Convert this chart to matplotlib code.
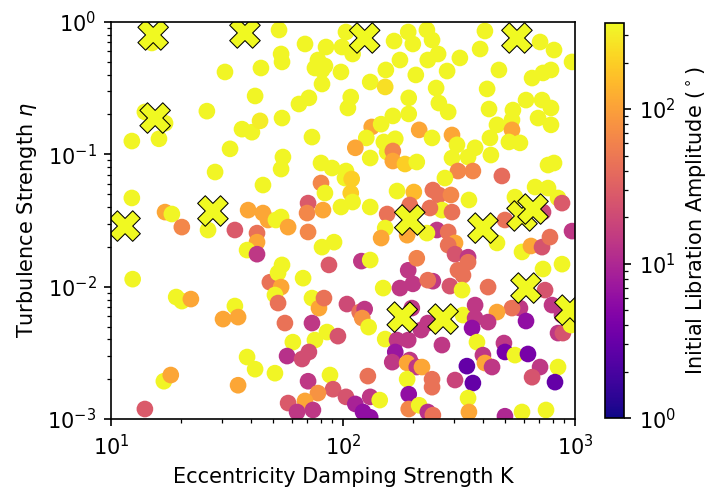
import numpy as np
import matplotlib
matplotlib.use('Agg')
import matplotlib.pyplot as plt
from matplotlib.colors import LogNorm

# damping strength K, turbulence eta, initial libration amplitude (deg)
K = [31.0, 44.3, 41.8, 25.9, 14.0, 17.1, 12.3, 16.1, 36.7, 40.5,
     43.9, 32.6, 28.1, 45.2, 12.3, 17.1, 18.3, 39.0, 45.2, 20.2,
     26.2, 34.2, 42.6, 42.6, 38.6, 42.6, 12.4, 48.4, 19.1, 20.2,
     22.1, 34.2, 30.4, 35.3, 38.6, 41.8, 16.9, 18.1, 35.3, 14.0,
     53.0, 103, 68.6, 84.5, 99.0, 110, 54.1, 54.6, 78.0, 75.7,
     83.6, 81.2, 98.0, 166, 191, 200, 176, 153, 206, 131,
     152, 81.2, 71.3, 64.6, 108, 105, 192, 192, 164, 54.6,
     133, 146, 213, 73.5, 126, 150, 168, 113, 155, 164,
     131, 164, 185, 55.1, 54.1, 80.4, 89.7, 103, 102, 109,
     80.4, 83.6, 108, 171, 202, 98.0, 110, 131, 70.7, 70.0,
     82.0, 54.1, 155, 194,
     230, 409, 707, 812, 971, 242, 390, 257, 232, 319,
     281, 470, 653, 728, 788, 418, 252, 259, 284, 426,
     540, 615, 721, 788, 693, 788, 535, 461, 535, 519,
     579, 430, 242, 295, 310, 371, 295, 346, 434, 208,
     765, 812, 313, 363, 484, 275, 673, 765, 845, 879,
     244, 259, 292, 349, 551, 267, 295, 728, 499,
     47.5, 51.4, 58.0, 70.7, 81.2, 91.5, 87.0, 120, 131, 54.6,
     52.5, 54.1, 50.9, 52.5, 67.3, 73.5, 78.8, 82.8, 104, 118,
     124, 121, 129, 149, 176, 200, 191, 208, 152, 146,
     189, 198, 56.2, 73.5, 85.3, 75.7, 95.1, 60.8, 57.4, 66.6,
     71.3, 152, 171, 191, 168, 163, 194, 189, 208, 50.9,
     87.9, 70.7, 128, 90.6, 78.0, 189, 192, 58.0, 68.6, 74.2,
     63.4, 103, 113, 122, 131, 144, 131, 192, 213,
     254, 284, 304, 284, 304, 346, 346, 313, 329, 461,
     591, 646, 721, 780, 971, 879, 728, 422, 244, 232,
     289, 326, 743, 796, 845, 887, 579, 535, 615, 879,
     961, 329, 371, 371, 360, 461, 422, 217, 232, 267,
     378, 401, 409, 439, 342, 363, 304, 494, 499, 551,
     627, 707, 653, 845, 820, 219, 242, 242, 232, 244,
     346, 349, 591, 499, 750, 230, 237, 15.0]
eta = [0.419, 0.449, 0.276, 0.212, 0.209, 0.172, 0.126, 0.131, 0.155, 0.147,
       0.179, 0.110, 0.0735, 0.0586, 0.0468, 0.0366, 0.0354, 0.0379, 0.0360, 0.0282,
       0.0268, 0.0268, 0.0254, 0.0217, 0.0189, 0.0176, 0.0114, 0.0108, 0.00835, 0.00778,
       0.00806, 0.00714, 0.00569, 0.00589, 0.00294, 0.00238, 0.00193, 0.00215, 0.00180, 0.00119,
       0.870, 0.840, 0.682, 0.647, 0.647, 0.573, 0.573, 0.499, 0.516, 0.449,
       0.465, 0.434, 0.419, 0.718, 0.840, 0.682, 0.516, 0.434, 0.398, 0.352,
       0.323, 0.340, 0.267, 0.240, 0.271, 0.224, 0.267, 0.202, 0.195, 0.188,
       0.161, 0.169, 0.153, 0.135, 0.133, 0.124, 0.131, 0.112, 0.104, 0.106,
       0.0938, 0.0890, 0.0845, 0.0954, 0.0774, 0.0860, 0.0788, 0.0748, 0.0662, 0.0651,
       0.0607, 0.0510, 0.0510, 0.0528, 0.0519, 0.0400, 0.0436, 0.0400, 0.0428, 0.0360,
       0.0379, 0.0336, 0.0354, 0.0414,
       0.870, 0.855, 0.706, 0.614, 0.499, 0.731, 0.625, 0.573, 0.516, 0.535,
       0.426, 0.434, 0.377, 0.412, 0.434, 0.312, 0.317, 0.244, 0.209, 0.220,
       0.216, 0.257, 0.257, 0.224, 0.188, 0.167, 0.182, 0.167, 0.153, 0.124,
       0.122, 0.133, 0.133, 0.140, 0.118, 0.112, 0.0938, 0.0954, 0.0988, 0.0875,
       0.0830, 0.0860, 0.0748, 0.0748, 0.0686, 0.0662, 0.0566, 0.0556, 0.0468, 0.0428,
       0.0537, 0.0493, 0.0493, 0.0452, 0.0475, 0.0379, 0.0366, 0.0366, 0.0319,
       0.0319, 0.0319, 0.0282, 0.0259, 0.0199, 0.0217, 0.0146, 0.0156, 0.0159, 0.0146,
       0.0127, 0.00993, 0.00865, 0.00752, 0.0116, 0.00820, 0.00689, 0.00820, 0.00739, 0.00643,
       0.00677, 0.00579, 0.00495, 0.00976, 0.00976, 0.0105, 0.0133, 0.0164, 0.0277, 0.0233,
       0.0245, 0.00689, 0.00531, 0.00531, 0.00454, 0.00395, 0.00423, 0.00381, 0.00299, 0.00284,
       0.00321, 0.00402, 0.00395, 0.00395, 0.00321, 0.00269, 0.00279, 0.00265, 0.00247, 0.00222,
       0.00215, 0.00193, 0.00211, 0.00168, 0.00157, 0.00200, 0.00154, 0.00132, 0.00137, 0.00117,
       0.00113, 0.00147, 0.00130, 0.00113, 0.00147, 0.00139, 0.00103, 0.00119, 0.00127,
       0.0268, 0.0259, 0.0214, 0.0206, 0.0176, 0.0167, 0.0153, 0.0133, 0.0122, 0.0214,
       0.0183, 0.0203, 0.0199, 0.0237, 0.0263, 0.0148, 0.0136, 0.00993, 0.0110, 0.0112,
       0.0101, 0.00942, 0.00942, 0.00726, 0.00446, 0.00446, 0.00689, 0.00689, 0.00550, 0.00610,
       0.00513, 0.00610, 0.00726, 0.00579, 0.00487, 0.00643, 0.00540, 0.00470, 0.00531, 0.00362,
       0.00381, 0.00304, 0.00265, 0.00247, 0.00251, 0.00187, 0.00197, 0.00375, 0.00321, 0.00304,
       0.00310, 0.00247, 0.00207, 0.00247, 0.00190, 0.00247, 0.00200, 0.00174, 0.00113, 0.00107,
       0.00144, 0.00113, 0.00113, 0.00105, 0.00117, 0.0254, 0.0393, 0.694]
amp = [340, 340, 340, 340, 340, 340, 340, 340, 340, 340,
       300, 340, 340, 340, 340, 110, 340, 110, 110, 65,
       340, 28, 45, 110, 340, 14, 340, 45, 340, 340,
       110, 340, 110, 110, 340, 340, 340, 110, 110, 28,
       340, 340, 340, 340, 340, 340, 340, 340, 340, 340,
       340, 340, 340, 340, 340, 340, 340, 340, 340, 340,
       250, 340, 340, 340, 340, 340, 340, 340, 340, 340,
       110, 340, 110, 340, 340, 340, 340, 110, 340, 65,
       340, 110, 200, 340, 340, 340, 340, 340, 340, 200,
       65, 340, 200, 340, 150, 340, 340, 340, 28, 65,
       110, 340, 45, 45,
       340, 340, 340, 340, 340, 340, 340, 340, 340, 340,
       340, 340, 340, 340, 340, 340, 340, 340, 340, 340,
       340, 340, 340, 340, 340, 340, 340, 340, 110, 340,
       340, 340, 340, 110, 340, 340, 340, 340, 340, 340,
       340, 340, 65, 65, 40, 340, 340, 340, 340, 28,
       45, 45, 65, 340, 340, 340, 45, 20, 45,
       110, 340, 110, 65, 340, 340, 28, 14, 340, 340,
       340, 110, 340, 45, 340, 340, 110, 45, 20, 45,
       14, 80, 340, 340, 14, 14, 14, 60, 340, 110,
       110, 14, 45, 14, 340, 340, 25, 340, 12, 22,
       22, 340, 14, 14, 7, 14, 14, 110, 14, 340,
       340, 14, 45, 28, 80, 340, 6, 28, 110, 14,
       14, 25, 9, 6, 14, 340, 6, 65, 340,
       14, 45, 110, 45, 25, 14, 45, 45, 45, 340,
       340, 110, 25, 45, 14, 340, 340, 45, 14, 45,
       25, 340, 25, 14, 14, 25, 14, 45, 6, 14,
       340, 340, 14, 14, 6, 110, 14, 14, 14, 14,
       340, 14, 110, 14, 3, 3, 18, 14, 4, 340,
       4, 14, 25, 340, 3, 110, 45, 45, 12, 45,
       340, 110, 340, 10, 340, 340, 45, 340]

# highlighted runs (crosses)
K_x = [15.2, 37.8, 124, 562, 15.5, 11.5, 27.5, 194, 401, 591, 659, 615, 180, 270, 951]
eta_x = [0.798, 0.826, 0.757, 0.757, 0.188, 0.0287, 0.0373, 0.0319, 0.0277, 0.0342,
         0.0386, 0.00976, 0.00589, 0.00569, 0.00665]
amp_x = [360, 360, 360, 360, 360, 360, 360, 360, 360, 360, 360, 360, 360, 360, 360]

norm = LogNorm(vmin=1, vmax=360)

fig = plt.figure(figsize=(724 / 150, 502 / 150), dpi=150)
ax = fig.add_axes([0.1533, 0.1653, 0.6409, 0.7909])

sc = ax.scatter(K, eta, c=amp, cmap='plasma', norm=norm, s=64, linewidths=0)
ax.scatter(K_x, eta_x, c=amp_x, cmap='plasma', norm=norm, marker='X', s=215,
           edgecolors='k', linewidths=0.5)

ax.set_xscale('log')
ax.set_yscale('log')
ax.set_xlim(10, 1000)
ax.set_ylim(1e-3, 1)
ax.set_xlabel('Eccentricity Damping Strength K')
ax.set_ylabel(r'Turbulence Strength $\eta$')

cax = fig.add_axes([0.836, 0.167, 0.026, 0.787])
cb = fig.colorbar(sc, cax=cax)
cb.set_label(r'Initial Libration Amplitude ($^\circ$)')

fig.savefig('out.png', dpi=150)
